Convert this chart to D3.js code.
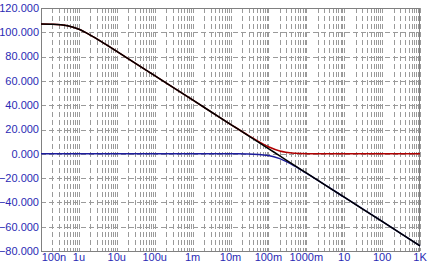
<!DOCTYPE html>
<html>
<head>
<meta charset="utf-8">
<script src="https://cdn.jsdelivr.net/npm/d3@7"></script>
<style>
  body { margin: 0; background: #fff; }
  text { font-family: "Liberation Sans", Arial, sans-serif; }
</style>
</head>
<body>
<div id="chart"></div>
<script>
// frequency points (Hz) and gain readings (dB)
const freqs = [1e-7, 2e-7, 5e-7, 1e-6, 2e-6, 5e-6, 1e-5, 1e-4, 1e-3, 1e-2, 3e-2, 0.1, 0.2, 0.5, 1, 10, 100, 1000];
const openLoop = [106.9, 106.7, 105.4, 102.5, 97.7, 90.2, 84.3, 64.3, 44.3, 24.3, 14.8, 4.3, -1.7, -9.7, -15.7, -35.7, -55.7, -75.7];
const feedback = [106.9, 106.7, 105.4, 102.5, 97.7, 90.2, 84.3, 64.3, 44.3, 24.3, 15.0, 5.8, 2.3, 0.5, 0.1, 0, 0, 0];
const closedLoop = [0, 0, 0, 0, 0, 0, 0, 0, 0, 0, -0.1, -1.4, -4.0, -10.2, -15.9, -35.7, -55.7, -75.7];

const xTicks = [1e-7, 1e-6, 1e-5, 1e-4, 1e-3, 1e-2, 1e-1, 1, 10, 100, 1000];
const xTickLabels = ["100n", "1u", "10u", "100u", "1m", "10m", "100m", "1000m", "10", "100", "1K"];
const yTicks = [120, 100, 80, 60, 40, 20, 0, -20, -40, -60, -80];

const width = 435, height = 264;
const margin = { top: 8, right: 15, bottom: 13, left: 41 };

const svg = d3.select("#chart").append("svg")
  .attr("width", width)
  .attr("height", height);

const x = d3.scaleLog().domain([1e-7, 1e3]).range([margin.left, width - margin.right]);
const y = d3.scaleLinear().domain([-80, 120]).range([height - margin.bottom, margin.top]);

const grid = svg.append("g")
  .attr("stroke", "#9a9a9a")
  .attr("stroke-width", 1)
  .attr("stroke-dasharray", "5,3")
  .attr("shape-rendering", "crispEdges");

// vertical grid, decades and 2..9 in between
const minor = [];
xTicks.slice(0, -1).forEach(d => {
  for (let k = 2; k <= 9; k++) minor.push(d * k);
});

grid.selectAll(".vminor")
  .data(minor)
  .join("line")
  .attr("x1", d => Math.round(x(d)) + 0.5)
  .attr("x2", d => Math.round(x(d)) + 0.5)
  .attr("y1", y(120))
  .attr("y2", y(-80));

grid.selectAll(".vmajor")
  .data(xTicks)
  .join("line")
  .attr("class", "vmajor")
  .attr("x1", d => Math.round(x(d)) + 0.5)
  .attr("x2", d => Math.round(x(d)) + 0.5)
  .attr("y1", y(120))
  .attr("y2", y(-80));

grid.selectAll(".hgrid")
  .data(yTicks)
  .join("line")
  .attr("class", "hgrid")
  .attr("x1", x(1e-7))
  .attr("x2", x(1e3))
  .attr("y1", d => Math.round(y(d)) + 0.5)
  .attr("y2", d => Math.round(y(d)) + 0.5);

// frame
svg.append("rect")
  .attr("x", x(1e-7) + 0.5)
  .attr("y", y(120) + 0.5)
  .attr("width", x(1e3) - x(1e-7) - 1)
  .attr("height", y(-80) - y(120))
  .attr("fill", "none")
  .attr("stroke", "#808080")
  .attr("shape-rendering", "crispEdges");

// axis labels
svg.append("g").selectAll("text")
  .data(yTicks)
  .join("text")
  .attr("x", margin.left - 2)
  .attr("y", d => y(d))
  .attr("dy", "0.35em")
  .attr("text-anchor", "end")
  .attr("font-size", 11)
  .attr("fill", "#2a2ab4")
  .text(d => d3.format(".3f")(d));

svg.append("g").selectAll("text")
  .data(xTicks)
  .join("text")
  .attr("x", d => Math.max(x(d), margin.left + 13))
  .attr("y", height - 3)
  .attr("text-anchor", "middle")
  .attr("font-size", 11)
  .attr("fill", "#2a2ab4")
  .text((d, i) => xTickLabels[i]);

// curves
const line = d3.line()
  .x((d, i) => x(freqs[i]))
  .y(d => y(d))
  .curve(d3.curveMonotoneX);

const series = [
  { values: closedLoop, color: "#1c1c9c" },
  { values: feedback, color: "#b00000" },
  { values: openLoop, color: "#000000" }
];

svg.append("g").selectAll("path")
  .data(series)
  .join("path")
  .attr("fill", "none")
  .attr("stroke", d => d.color)
  .attr("stroke-width", 1.5)
  .attr("d", d => line(d.values));
</script>
</body>
</html>
